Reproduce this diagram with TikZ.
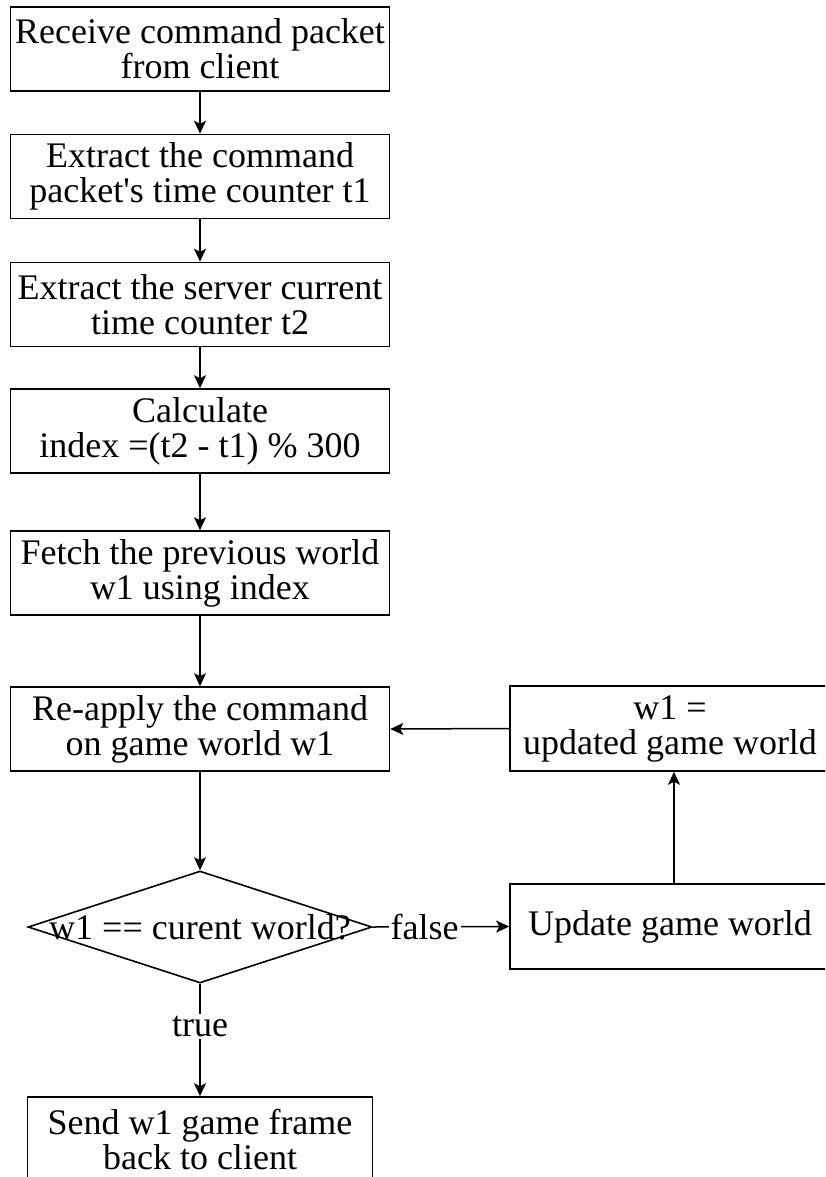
\documentclass[tikz,border=0pt]{standalone}
\usepackage{fontspec}
\setmainfont{Liberation Serif}
\usetikzlibrary{shapes.geometric,arrows.meta}
\begin{document}
\begin{tikzpicture}[x=0.5pt,y=-0.5pt,
  every node/.style={font=\fontsize{18}{17.5}\selectfont},
  procbox/.style={draw, line width=0.8pt, inner sep=0pt, align=center, minimum width=189.5pt, minimum height=42pt},
  sidebox/.style={draw, line width=0.8pt, inner sep=0pt, align=center, minimum width=160pt, minimum height=42.5pt},
  decbox/.style={draw, line width=0.8pt, diamond, inner sep=0pt, minimum width=172pt, minimum height=56pt},
  flow/.style={line width=0.75pt, -{Stealth[length=6.5pt,width=6pt,inset=1.5pt]}},
  lbl/.style={fill=white, inner sep=1pt}]
\useasboundingbox (0,0) rectangle (825,1177);
\clip (0,0) rectangle (825,1177);
\node[procbox] (b1) at (200,49) {Receive command packet\\from client};
\node[procbox] (b2) at (200,176.5) {Extract the command\\packet\textquotesingle s time counter t1};
\node[procbox] (b3) at (200,304.5) {Extract the server current\\time counter t2};
\node[procbox] (b4) at (200,431) {Calculate\\index =(t2 - t1) \% 300};
\node[procbox] (b5) at (200,573) {Fetch the previous world\\w1 using index};
\node[procbox] (b6) at (200,729) {Re-apply the command\\on game world w1};
\node[sidebox] (r1) at (670,728.5) {w1 =\\updated game world};
\node[sidebox] (r2) at (670,926.5) {Update game world};
\node[decbox] (d) at (200,927) {};
\node (dt) at (200,927) {w1 == curent world?};
\node[procbox, minimum width=172.5pt] (b7) at (200,1139) {Send w1 game frame\\back to client};
\draw[flow] (b1) -- (b2);
\draw[flow] (b2) -- (b3);
\draw[flow] (b3) -- (b4);
\draw[flow] (b4) -- (b5);
\draw[flow] (b5) -- (b6);
\draw[flow] (b6) -- (d.north);
\draw[flow] (d.south) -- node[lbl, pos=0.38] {true} (b7);
\draw[flow] (d.east) -- node[lbl, pos=0.38] {false} (r2.west);
\draw[flow] (r2.north -| 674,0) -- (r1.south -| 674,0);
\draw[flow] (r1.west) -- (b6.east);
\end{tikzpicture}
\end{document}
